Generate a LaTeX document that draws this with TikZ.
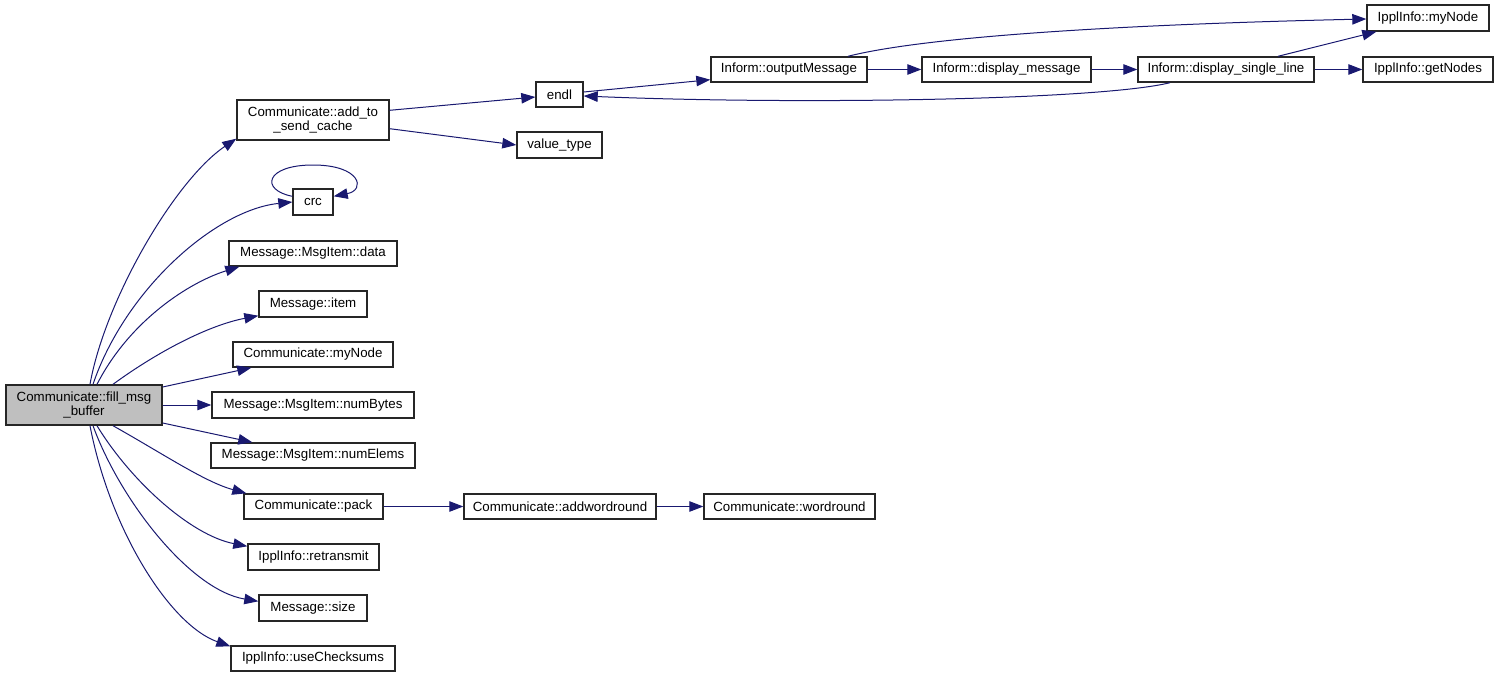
\documentclass[tikz,border=0pt]{standalone}
\usepackage{fontspec}
\setmainfont{Liberation Sans}
\usetikzlibrary{arrows.meta}
\definecolor{edgeblue}{RGB}{25,25,112}
\definecolor{boxgray}{RGB}{191,191,191}
\tikzset{
  box/.style={draw=black!85, line width=1.4pt, fill=white, inner sep=0pt, align=center,
    font=\fontsize{13.3}{14.5}\selectfont, text=black},
  rootbox/.style={box, fill=boxgray},
  edge/.style={draw=edgeblue, line width=1pt, -{Triangle[length=14pt,width=10.5pt]}},
}
\begin{document}
\begin{tikzpicture}[x=1pt,y=-1pt]
\useasboundingbox (0,0) rectangle (1499,677);
% nodes
\node[rootbox, minimum width=156pt, minimum height=40pt] (fill) at (84,405) {Communicate::fill\_msg\\\_buffer};
\node[box, minimum width=152pt, minimum height=40pt] (add) at (313,120) {Communicate::add\_to\\\_send\_cache};
\node[box, minimum width=40pt, minimum height=26pt] (crc) at (313,202) {crc};
\node[box, minimum width=168pt, minimum height=25pt] (data) at (313,253.5) {Message::MsgItem::data};
\node[box, minimum width=108pt, minimum height=26pt] (item) at (313,304) {Message::item};
\node[box, minimum width=160pt, minimum height=25pt] (cmynode) at (313,354.5) {Communicate::myNode};
\node[box, minimum width=202pt, minimum height=26pt] (numbytes) at (313,405) {Message::MsgItem::numBytes};
\node[box, minimum width=204pt, minimum height=25pt] (numelems) at (313,455.5) {Message::MsgItem::numElems};
\node[box, minimum width=139pt, minimum height=25pt] (pack) at (313.5,506.5) {Communicate::pack};
\node[box, minimum width=131pt, minimum height=26pt] (retrans) at (313.5,557) {IpplInfo::retransmit};
\node[box, minimum width=108pt, minimum height=26pt] (size) at (313,608) {Message::size};
\node[box, minimum width=164pt, minimum height=25pt] (usecs) at (313,658.5) {IpplInfo::useChecksums};
\node[box, minimum width=47pt, minimum height=25pt] (endl) at (559.5,94.5) {endl};
\node[box, minimum width=85pt, minimum height=26pt] (vtype) at (559.5,145) {value\_type};
\node[box, minimum width=156pt, minimum height=25pt] (outmsg) at (789,69.5) {Inform::outputMessage};
\node[box, minimum width=169pt, minimum height=25pt] (dispmsg) at (1006.5,69.5) {Inform::display\_message};
\node[box, minimum width=176pt, minimum height=25pt] (dispsl) at (1226,69.5) {Inform::display\_single\_line};
\node[box, minimum width=122pt, minimum height=26pt] (imynode) at (1428,18) {IpplInfo::myNode};
\node[box, minimum width=130pt, minimum height=25pt] (getnodes) at (1428,69.5) {IpplInfo::getNodes};
\node[box, minimum width=192pt, minimum height=25pt] (addwr) at (560,506.5) {Communicate::addwordround};
\node[box, minimum width=171pt, minimum height=25pt] (wr) at (789.5,506.5) {Communicate::wordround};
% edges from fill
\draw[edge] ([xshift=6pt]fill.north) .. controls (105,300) and (175,180) .. ([yshift=2pt]add.south west);
\draw[edge] ([xshift=9pt]fill.north) .. controls (125,290) and (215,210) .. (crc.west);
\draw[edge] ([xshift=13pt]fill.north) .. controls (130,320) and (190,282) .. ([xshift=11pt]data.south west);
\draw[edge] ([xshift=29pt]fill.north) .. controls (160,350) and (210,325) .. ([yshift=2pt]item.south west);
\draw[edge] ([yshift=18pt]fill.east) -- ([xshift=19pt]cmynode.south west);
\draw[edge] (fill.east) -- (numbytes.west);
\draw[edge] ([yshift=-18pt]fill.east) -- ([xshift=42pt]numelems.north west);
\draw[edge] ([xshift=29pt]fill.south) .. controls (165,455) and (205,482) .. ([xshift=3pt]pack.north west);
\draw[edge] ([xshift=13pt]fill.south) .. controls (130,480) and (190,535) .. ([yshift=-3pt]retrans.north west);
\draw[edge] ([xshift=9pt]fill.south) .. controls (120,500) and (190,590) .. ([yshift=-7pt]size.north west);
\draw[edge] ([xshift=6pt]fill.south) .. controls (110,530) and (170,625) .. ([yshift=-1pt]usecs.north west);
% crc self loop
\draw[edge] ([yshift=-8pt]crc.north west) .. controls (260,190) and (265,165) .. (313,165)
  .. controls (361,165) and (366,190) .. ([yshift=-8pt]crc.north east);
% add_to_send_cache
\draw[edge] ([yshift=-11pt]add.north east) -- ([yshift=-2.5pt]endl.west);
\draw[edge] ([yshift=12pt]add.south east) -- (vtype.west);
% endl chain
\draw[edge] ([yshift=2.5pt]endl.east) -- ([yshift=3pt]outmsg.south west);
\draw[edge] (outmsg.east) -- (dispmsg.west);
\draw[edge] (dispmsg.east) -- (dispsl.west);
\draw[edge] (dispsl.east) -- (getnodes.west);
\draw[edge] ([xshift=52pt]dispsl.north) -- ([xshift=10pt]imynode.south west);
\draw[edge] ([xshift=59pt]outmsg.north) .. controls (920,38) and (1100,25) .. ([yshift=-1pt]imynode.west);
\draw[edge] ([xshift=-56pt]dispsl.south) .. controls (1100,100) and (800,105) .. ([yshift=-1.5pt]endl.east);
% pack chain
\draw[edge] (pack.east) -- (addwr.west);
\draw[edge] (addwr.east) -- (wr.west);
\end{tikzpicture}
\end{document}
